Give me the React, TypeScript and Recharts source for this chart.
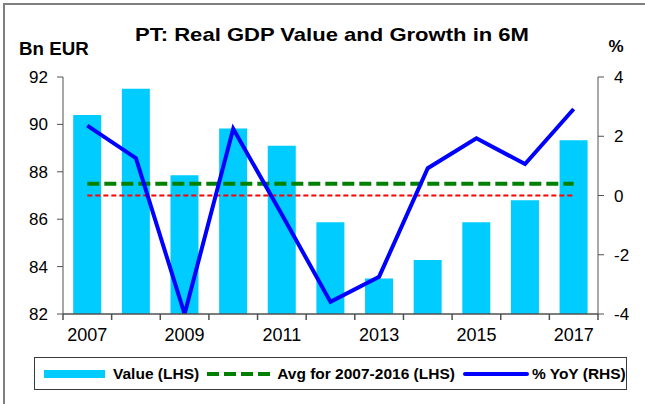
import React from 'react';
import { ComposedChart, Bar, Line, XAxis, YAxis, Legend } from 'recharts';

const years = ['2007', '2008', '2009', '2010', '2011', '2012', '2013', '2014', '2015', '2016', '2017'];
const gdpValue = [90.4, 91.5, 87.85, 89.83, 89.1, 85.87, 83.5, 84.28, 85.87, 86.8, 89.33];
const yoyGrowth = [2.36, 1.26, -4.0, 2.25, -0.64, -3.59, -2.74, 0.92, 1.93, 1.06, 2.92];
const avgValue = 87.5;
const zeroLine = 0;
const leftTicks = [82, 84, 86, 88, 90, 92];
const rightTicks = [-4, -2, 0, 2, 4];

const chartData = years.map((year, i) => ({
  year,
  value: gdpValue[i],
  yoy: yoyGrowth[i],
  avg: avgValue,
  zero: zeroLine,
}));

const FONT = 'Arial, "Liberation Sans", Helvetica, sans-serif';
const AXIS = '#505050';
const PLOT_W = 535;

// Excel style category tick: tick marks sit on the category boundaries,
// labels on every other category centre
const CatTick = (props: any) => {
  const { x, y, payload, index, visibleTicksCount } = props;
  const axisW = Number.isFinite(Number(props.width)) && Number(props.width) > 0 ? Number(props.width) : PLOT_W;
  const count = Number(visibleTicksCount) > 0 ? Number(visibleTicksCount) : years.length;
  const off = Number(payload?.offset);
  const half = Number.isFinite(off) && off > 0 ? off : axisW / count / 2;
  const idx = Number.isFinite(Number(index)) ? Number(index) : Number(payload?.index ?? 0);
  const last = idx === years.length - 1;
  const px = Number(x);
  const py = Number(y);
  return (
    <g>
      <line x1={px - half} y1={py} x2={px - half} y2={py + 6} stroke={AXIS} strokeWidth={1.5} />
      {last && <line x1={px + half} y1={py} x2={px + half} y2={py + 6} stroke={AXIS} strokeWidth={1.5} />}
      {idx % 2 === 0 && (
        <text x={px} y={py + 14} dy="0.71em" textAnchor="middle" fontSize={18} fill="#000" fontFamily={FONT}>
          {payload.value}
        </text>
      )}
    </g>
  );
};

// legend drawn as one bordered box, like the Excel original
const LegendBox = () => (
  <div
    style={{
      boxSizing: 'border-box',
      width: '100%',
      height: '100%',
      border: '1px solid #3a3a3a',
      background: '#fff',
      display: 'flex',
      alignItems: 'center',
      fontFamily: FONT,
      fontWeight: 'bold',
      fontSize: 15.5,
      color: '#000',
      paddingLeft: 9,
      whiteSpace: 'nowrap',
    }}
  >
    <svg width={62} height={10} style={{ marginRight: 7 }}>
      <rect x={0} y={1} width={61} height={8} fill="#00CCFF" />
    </svg>
    <span>Value (LHS)</span>
    <svg width={64} height={10} style={{ marginLeft: 8, marginRight: 6 }}>
      <line x1={0} y1={5} x2={63} y2={5} stroke="#008000" strokeWidth={4} strokeDasharray="12 5" />
    </svg>
    <span>Avg for 2007-2016 (LHS)</span>
    <svg width={66} height={10} style={{ marginLeft: 8, marginRight: 3 }}>
      <line x1={2} y1={5} x2={64} y2={5} stroke="#0000FF" strokeWidth={4} strokeLinecap="round" />
    </svg>
    <span>% YoY (RHS)</span>
  </div>
);

export default function App() {
  return (
    <div style={{ position: 'absolute', left: 0, top: 0, width: 645, height: 404, background: '#fff', overflow: 'hidden' }}>
      {/* frame lines */}
      <div style={{ position: 'absolute', left: 3, top: 3, right: 0, height: 2, background: '#7f7f7f' }} />
      <div style={{ position: 'absolute', left: 3, top: 3, bottom: 0, width: 2, background: '#7f7f7f' }} />

      <div
        style={{
          position: 'absolute', left: 132, top: 25, width: 400, textAlign: 'center',
          fontFamily: FONT, fontWeight: 'bold', fontSize: 19, lineHeight: '19px',
          transform: 'scaleX(1.16)', whiteSpace: 'nowrap',
        }}
      >
        PT: Real GDP Value and Growth in 6M
      </div>
      <div style={{ position: 'absolute', left: 19, top: 40, fontFamily: FONT, fontWeight: 'bold', fontSize: 18, lineHeight: '18px', transform: 'scaleX(1.04)', transformOrigin: 'left' }}>
        Bn EUR
      </div>
      <div style={{ position: 'absolute', left: 601, width: 30, top: 38, textAlign: 'center', fontFamily: FONT, fontWeight: 'bold', fontSize: 17, lineHeight: '18px' }}>
        %
      </div>

      <ComposedChart
        width={645}
        height={404}
        data={chartData}
        margin={{ top: 77, right: 0, bottom: 60, left: 0 }}
        barCategoryGap="21%"
        style={{ position: 'absolute', left: 0, top: 0 }}
      >
        <XAxis
          dataKey="year"
          height={30}
          interval={0}
          axisLine={{ stroke: AXIS, strokeWidth: 1.5 }}
          tickLine={false}
          tickSize={0}
          tickMargin={0}
          tick={<CatTick />}
        />
        <YAxis
          yAxisId="l"
          width={63}
          domain={[82, 92]}
          ticks={leftTicks}
          allowDataOverflow
          tickSize={6}
          tickMargin={9}
          axisLine={{ stroke: AXIS }}
          tickLine={{ stroke: AXIS }}
          tick={{ fontSize: 17, fill: '#000', fontFamily: FONT }}
        />
        <YAxis
          yAxisId="r"
          orientation="right"
          width={47}
          domain={[-4, 4]}
          ticks={rightTicks}
          allowDataOverflow
          tickSize={6}
          tickMargin={10}
          axisLine={{ stroke: AXIS }}
          tickLine={{ stroke: AXIS }}
          tick={{ fontSize: 17, fill: '#000', fontFamily: FONT }}
        />
        <Bar yAxisId="l" dataKey="value" fill="#00CCFF" isAnimationActive={false} />
        <Line
          yAxisId="r"
          dataKey="zero"
          stroke="#FF0000"
          strokeWidth={2}
          strokeDasharray="5 3"
          dot={false}
          activeDot={false}
          isAnimationActive={false}
        />
        <Line
          yAxisId="l"
          dataKey="avg"
          stroke="#008000"
          strokeWidth={4}
          strokeDasharray="12 5"
          dot={false}
          activeDot={false}
          isAnimationActive={false}
        />
        <Line
          yAxisId="r"
          dataKey="yoy"
          stroke="#0000FF"
          strokeWidth={4}
          strokeLinejoin="miter"
          dot={false}
          activeDot={false}
          isAnimationActive={false}
        />
        <Legend
          layout="horizontal"
          verticalAlign="middle"
          content={() => <LegendBox />}
          wrapperStyle={{ left: 34, top: 357, width: 593, height: 33 }}
        />
      </ComposedChart>
    </div>
  );
}
